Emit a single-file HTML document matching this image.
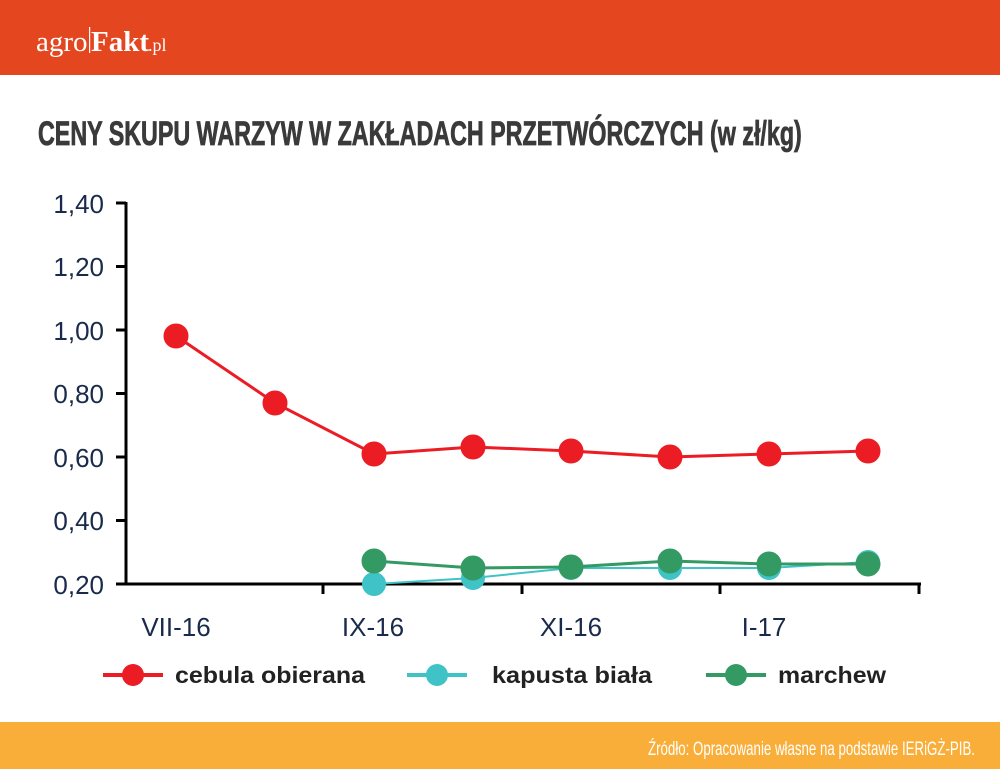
<!DOCTYPE html>
<html><head><meta charset="utf-8"><style>
body{margin:0;width:1000px;height:769px;overflow:hidden;background:#fff;font-family:"Liberation Sans",sans-serif}
</style></head><body>
<svg width="1000" height="769" xmlns="http://www.w3.org/2000/svg" style="position:absolute;left:0;top:0">
<rect x="0" y="0" width="1000" height="75" fill="#e4461f"/>
<text x="36" y="51" font-family="Liberation Serif" font-size="29" fill="#fff">agro</text>
<rect x="89" y="27" width="1.2" height="26" fill="#fff"/>
<text x="91" y="51" font-family="Liberation Serif" font-size="29" font-weight="bold" fill="#fff">Fakt</text>
<text x="148" y="51" font-family="Liberation Serif" font-size="18" fill="#fff">.pl</text>
<text x="38" y="145" font-size="34" font-weight="bold" fill="#3a3a3a" stroke="#3a3a3a" stroke-width="0.8" transform="translate(38 0) scale(0.685 1) translate(-38 0)">CENY SKUPU WARZYW W ZAKŁADACH PRZETWÓRCZYCH (w zł/kg)</text>
<rect x="0" y="722" width="1000" height="47" fill="#f9ae3a"/>
<text x="975" y="755" text-anchor="end" font-size="19" fill="#fff" transform="translate(975 0) scale(0.7 1) translate(-975 0)">Źródło: Opracowanie własne na podstawie IERiGŻ-PIB.</text>
<g stroke="#000" stroke-width="3" fill="none">
<line x1="126" y1="202" x2="126" y2="585"/>
<line x1="124" y1="584" x2="921" y2="584"/>
<line x1="116" y1="203" x2="126" y2="203"/><line x1="116" y1="266.5" x2="126" y2="266.5"/><line x1="116" y1="330" x2="126" y2="330"/><line x1="116" y1="393.5" x2="126" y2="393.5"/><line x1="116" y1="457" x2="126" y2="457"/><line x1="116" y1="520.5" x2="126" y2="520.5"/><line x1="116" y1="584" x2="126" y2="584"/>
<line x1="323" y1="584" x2="323" y2="594"/><line x1="522" y1="584" x2="522" y2="594"/><line x1="720" y1="584" x2="720" y2="594"/><line x1="919" y1="584" x2="919" y2="594"/>
</g>
<g font-size="26" fill="#1a2a4a" text-anchor="end">
<text x="104" y="213">1,40</text><text x="104" y="276">1,20</text><text x="104" y="340">1,00</text><text x="104" y="403">0,80</text><text x="104" y="467">0,60</text><text x="104" y="530">0,40</text><text x="104" y="594">0,20</text>
</g>
<g font-size="26" fill="#1a2a4a" text-anchor="middle">
<text x="176" y="636">VII-16</text><text x="373" y="636">IX-16</text><text x="571" y="636">XI-16</text><text x="764" y="636">I-17</text>
</g>
<g fill="#ec1c24" stroke="#ec1c24" stroke-width="3">
<polyline fill="none" points="176,336 275,403 374,454 473,447 571,451 670,457 769,454 868,451"/>
<circle cx="176" cy="336" r="11"/><circle cx="275" cy="403" r="11"/><circle cx="374" cy="454" r="11"/><circle cx="473" cy="447" r="11"/><circle cx="571" cy="451" r="11"/><circle cx="670" cy="457" r="11"/><circle cx="769" cy="454" r="11"/><circle cx="868" cy="451" r="11"/>
</g>
<g fill="#3fc3c6" stroke="#3fc3c6" stroke-width="2">
<polyline fill="none" points="374,584 473,578 571,568 670,568 769,568 868,562"/>
<circle cx="374" cy="584" r="11"/><circle cx="473" cy="578" r="11"/><circle cx="571" cy="568" r="11"/><circle cx="670" cy="568" r="11"/><circle cx="769" cy="568" r="11"/><circle cx="868" cy="562" r="11"/>
</g>
<g fill="#349a64" stroke="#349a64" stroke-width="3">
<polyline fill="none" points="374,561 473,568 571,567 670,561 769,564 868,564"/>
<circle cx="374" cy="561" r="11"/><circle cx="473" cy="568" r="11"/><circle cx="571" cy="567" r="11"/><circle cx="670" cy="561" r="11"/><circle cx="769" cy="564" r="11"/><circle cx="868" cy="564" r="11"/>
</g>
<g font-size="23" font-weight="bold" fill="#222">
<line x1="103" y1="675" x2="163" y2="675" stroke="#ec1c24" stroke-width="4"/><circle cx="133" cy="675" r="11" fill="#ec1c24"/>
<text x="175" y="683" textLength="190" lengthAdjust="spacingAndGlyphs">cebula obierana</text>
<line x1="407" y1="675" x2="467" y2="675" stroke="#3fc3c6" stroke-width="4"/><circle cx="437" cy="675" r="11" fill="#3fc3c6"/>
<text x="492" y="683" textLength="160" lengthAdjust="spacingAndGlyphs">kapusta biała</text>
<line x1="706" y1="675" x2="766" y2="675" stroke="#349a64" stroke-width="4"/><circle cx="736" cy="675" r="11" fill="#349a64"/>
<text x="778" y="683" textLength="108" lengthAdjust="spacingAndGlyphs">marchew</text>
</g>
</svg>
</body></html>
